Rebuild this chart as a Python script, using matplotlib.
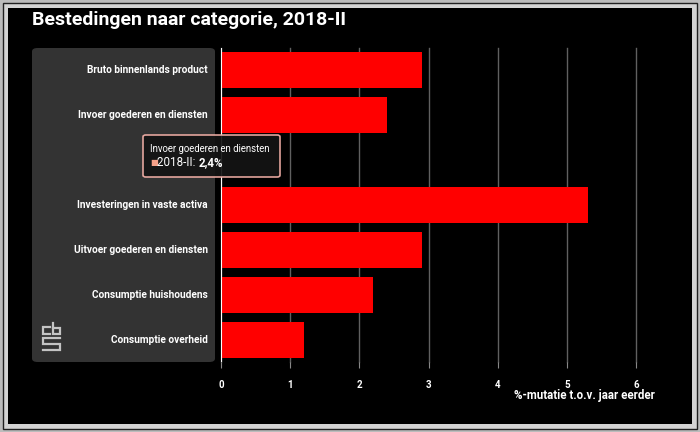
import matplotlib
matplotlib.use('Agg')
import matplotlib.pyplot as plt
from matplotlib.patches import Rectangle, FancyBboxPatch
from matplotlib.lines import Line2D

# data
categories = ['Bruto binnenlands product', 'Invoer goederen en diensten', '',
              'Investeringen in vaste activa', 'Uitvoer goederen en diensten',
              'Consumptie huishoudens', 'Consumptie overheid']
values = [2.9, 2.4, 0.0, 5.3, 2.9, 2.2, 1.2]
xticks = [0, 1, 2, 3, 4, 5, 6]
title = 'Bestedingen naar categorie, 2018-II'
xlabel = '%-mutatie t.o.v. jaar eerder'
tip_title = 'Invoer goederen en diensten'
tip_series = '2018-II: '
tip_value = '2,4%'

plt.rcParams['font.family'] = ['Roboto', 'DejaVu Sans']
W, H = 700, 432
fig = plt.figure(figsize=(7, 4.32), dpi=100, facecolor='#bcbcbc')


def px(x, y):
    # pixel coords from top-left -> figure fraction
    return x / W, 1 - y / H


# frame bevel
fig.patches.append(Rectangle((3 / W, 3 / H), (W - 6) / W, (H - 6) / H,
                             transform=fig.transFigure, facecolor='#d4d4d4',
                             edgecolor='#202020', linewidth=1, zorder=0))
fig.patches.append(Rectangle((8 / W, 8 / H), (W - 16) / W, (H - 16) / H,
                             transform=fig.transFigure, facecolor='black',
                             edgecolor='none', zorder=0))

# grey label panel
x0, y0 = px(32, 362)
x1, y1 = px(215, 48)
fig.patches.append(FancyBboxPatch((x0, y0), x1 - x0, y1 - y0,
                                  boxstyle='round,pad=0,rounding_size=0.008',
                                  transform=fig.transFigure, facecolor='#333333',
                                  edgecolor='none', zorder=1))

ax = fig.add_axes([221 / W, 70 / H, (636 - 221) / W, (362 - 48) / H])
ax.set_facecolor('none')
ax.set_zorder(2)
ypos = list(range(len(categories)))
ax.barh(ypos, values, height=0.8, color='#ff0000', zorder=3)
ax.set_xlim(0, 6)
ax.set_ylim(len(categories) - 0.5, -0.5)
ax.set_xticks(xticks)
ax.set_xticklabels([str(t) for t in xticks], color='white', fontsize=7,
                   fontweight='bold')
ax.tick_params(axis='x', length=4, color='#888888', pad=9)
ax.set_yticks([])
ax.grid(axis='x', color='#606060', linewidth=1)
for gl in ax.get_xgridlines():
    gl.set_clip_on(False)
ax.set_axisbelow(True)
for s in ax.spines.values():
    s.set_visible(False)
ax.axvline(0, color='white', linewidth=1.5, zorder=4)

for y, lab in zip(ypos, categories):
    ax.text(-13 / (636 - 221), y, lab, ha='right', va='center', color='white',
            fontsize=7.3, fontweight='bold', transform=ax.get_yaxis_transform(),
            zorder=5)

fig.text(*px(655, 396), xlabel, ha='right', va='center', color='white',
         fontsize=8.3, fontweight='bold')
fig.text(*px(32, 20), title, ha='left', va='center', color='white',
         fontsize=14, fontweight='bold')

# cbs logo (approximation)
logo = [
    [(50, 327), (43, 327), (43, 334), (50, 334)],
    [(53, 323), (53, 334), (60, 334), (60, 328), (53, 328)],
    [(60, 338), (43, 338), (43, 344), (60, 344), (60, 350), (43, 350)],
]
for path in logo:
    xs = [p[0] / W for p in path]
    ys = [1 - p[1] / H for p in path]
    fig.lines.append(Line2D(xs, ys, transform=fig.transFigure, color='#c4c4c4',
                            linewidth=1.6, solid_joinstyle='miter', zorder=3))

# tooltip
tx0, ty0 = px(143, 177)
tx1, ty1 = px(280, 135)
fig.patches.append(FancyBboxPatch((tx0, ty0), tx1 - tx0, ty1 - ty0,
                                  boxstyle='round,pad=0,rounding_size=0.004',
                                  transform=fig.transFigure, facecolor='#141414',
                                  edgecolor='#f4b0a8', linewidth=1.2, alpha=0.92,
                                  zorder=10))
fig.text(*px(150, 149), tip_title, ha='left', va='center', color='white',
         fontsize=6.9, zorder=11)
fig.text(*px(150, 163), '■', ha='left', va='center', color='#f7a28a',
         fontsize=6, zorder=11)
t2 = fig.text(*px(157, 163), tip_series, ha='left', va='center', color='white',
              fontsize=8.4, zorder=11)
fig.canvas.draw()
bb = t2.get_window_extent()
fig.text(bb.x1 / W, 1 - 163 / H, tip_value, ha='left', va='center', color='white',
         fontsize=8.4, fontweight='bold', zorder=11)

fig.savefig('out.png', dpi=100, facecolor=fig.get_facecolor())
